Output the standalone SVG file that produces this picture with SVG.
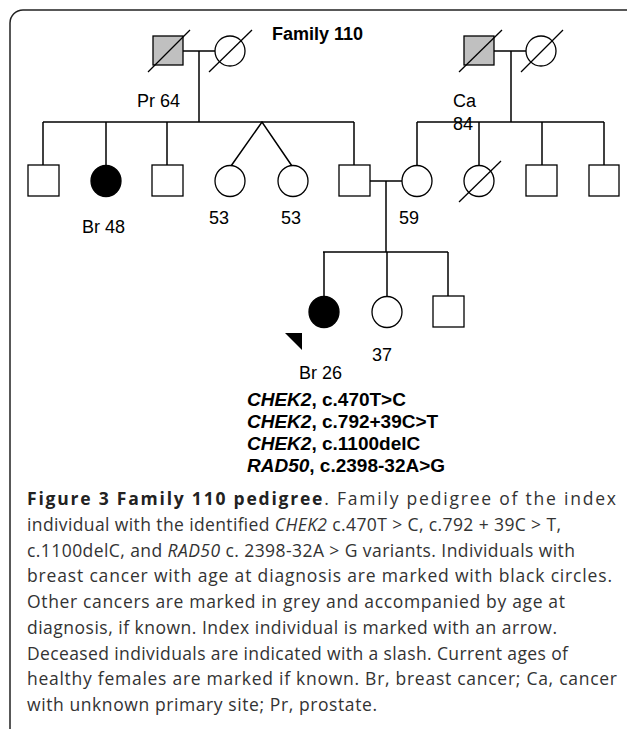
<svg xmlns="http://www.w3.org/2000/svg" width="627" height="729" viewBox="0 0 627 729">
<style>
.ln{stroke:#000;stroke-width:1.5;fill:none}
.sh{stroke:#000;stroke-width:1.3;fill:#fff}
.gr{fill:#c0c0c0}
.bk{fill:#000}
.sl{stroke:#000;stroke-width:1.3}
.lb{font-family:"Liberation Sans",Arial,sans-serif;font-size:18px;fill:#000}
.vb{font-family:"Liberation Sans",Arial,sans-serif;font-size:19px;font-weight:bold;fill:#000}
.cap{font-family:"Open Sans","Noto Sans",sans-serif;font-size:17.5px;fill:#333}
.b{font-weight:bold;fill:#222}
.i{font-style:italic}
</style>
<rect x="10" y="10" width="640" height="760" rx="13" fill="#fff" stroke="#222" stroke-width="1.5"/>
<text class="lb" x="272" y="40" font-weight="bold" font-size="18">Family 110</text>
<g id="connectors">
<line class="ln" x1="183" y1="51" x2="215" y2="51"/>
<line class="ln" x1="199" y1="51" x2="199" y2="122"/>
<line class="ln" x1="43" y1="122" x2="354" y2="122"/>
<line class="ln" x1="43" y1="122" x2="43" y2="165"/>
<line class="ln" x1="106" y1="122" x2="106" y2="166"/>
<line class="ln" x1="167" y1="122" x2="167" y2="165"/>
<polyline class="ln" points="231,166 262,122 292,166"/>
<line class="ln" x1="354" y1="122" x2="354" y2="165"/>
<line class="ln" x1="494" y1="51" x2="526" y2="51"/>
<line class="ln" x1="511" y1="51" x2="511" y2="122"/>
<line class="ln" x1="417" y1="122" x2="604" y2="122"/>
<line class="ln" x1="417" y1="122" x2="417" y2="166"/>
<line class="ln" x1="479" y1="122" x2="479" y2="166"/>
<line class="ln" x1="542" y1="122" x2="542" y2="166"/>
<line class="ln" x1="604" y1="122" x2="604" y2="166"/>
<line class="ln" x1="370" y1="181" x2="402" y2="181"/>
<line class="ln" x1="386" y1="181" x2="386" y2="252"/>
<line class="ln" x1="323" y1="252" x2="448" y2="252"/>
<line class="ln" x1="324" y1="252" x2="324" y2="297"/>
<line class="ln" x1="387" y1="252" x2="387" y2="297"/>
<line class="ln" x1="448" y1="252" x2="448" y2="296"/>
</g>
<g id="gp1"><rect class="sh gr" x="153" y="36" width="30" height="29"/><line class="sl" x1="148" y1="72" x2="190" y2="30"/><text class="lb" x="137" y="107">Pr 64</text></g>
<g id="gm1"><ellipse class="sh" cx="230" cy="51" rx="15" ry="15"/><line class="sl" x1="209" y1="72" x2="252" y2="30"/></g>
<g id="gp2"><rect class="sh gr" x="464" y="36" width="30" height="29"/><line class="sl" x1="459" y1="72" x2="502" y2="30"/><text class="lb" x="453" y="107">Ca</text><text class="lb" x="453" y="130">84</text></g>
<g id="gm2"><ellipse class="sh" cx="541" cy="51" rx="15" ry="15"/><line class="sl" x1="521" y1="72" x2="563" y2="30"/></g>
<g id="c1"><rect class="sh" x="28" y="165" width="31" height="31"/></g>
<g id="c2"><ellipse class="bk" stroke="#000" stroke-width="1.3" cx="106" cy="181" rx="15" ry="15.5"/><text class="lb" x="82" y="233">Br 48</text></g>
<g id="c3"><rect class="sh" x="152" y="165" width="31" height="31"/></g>
<g id="c4"><ellipse class="sh" cx="230" cy="181" rx="15" ry="15.5"/><text class="lb" x="209" y="224">53</text></g>
<g id="c5"><ellipse class="sh" cx="293" cy="181" rx="15" ry="15.5"/><text class="lb" x="281" y="224">53</text></g>
<g id="c6"><rect class="sh" x="339" y="165" width="31" height="31"/></g>
<g id="c7"><ellipse class="sh" cx="417" cy="181" rx="15" ry="15.5"/><text class="lb" x="399" y="224">59</text></g>
<g id="c8"><ellipse class="sh" cx="479" cy="181" rx="15" ry="15.5"/><line class="sl" x1="459" y1="202" x2="501" y2="161"/></g>
<g id="c9"><rect class="sh" x="526" y="165" width="31" height="31"/></g>
<g id="c10"><rect class="sh" x="589" y="165" width="30" height="31"/></g>
<g id="g1"><ellipse class="bk" stroke="#000" stroke-width="1.3" cx="324" cy="312" rx="15" ry="15.5"/><polygon class="bk" points="285,333 302,333 302,350"/><text class="lb" x="299" y="379">Br 26</text>
<text class="vb" x="247" y="406"><tspan class="i">CHEK2</tspan>, c.470T&gt;C</text>
<text class="vb" x="247" y="428"><tspan class="i">CHEK2</tspan>, c.792+39C&gt;T</text>
<text class="vb" x="247" y="450"><tspan class="i">CHEK2</tspan>, c.1100delC</text>
<text class="vb" x="247" y="472"><tspan class="i">RAD50</tspan>, c.2398-32A&gt;G</text></g>
<g id="g2"><ellipse class="sh" cx="387" cy="312" rx="15" ry="15.5"/><text class="lb" x="372" y="361">37</text></g>
<g id="g3"><rect class="sh" x="433" y="296" width="31" height="31"/></g>
<g id="caption">
<text class="cap" x="27" y="505" textLength="589" lengthAdjust="spacing"><tspan class="b">Figure 3 Family 110 pedigree</tspan>. Family pedigree of the index</text>
<text class="cap" x="27" y="531" textLength="534" lengthAdjust="spacing">individual with the identified <tspan class="i">CHEK2</tspan> c.470T &gt; C, c.792 + 39C &gt; T,</text>
<text class="cap" x="27" y="556.5" textLength="548" lengthAdjust="spacing">c.1100delC, and <tspan class="i">RAD50</tspan> c. 2398-32A &gt; G variants. Individuals with</text>
<text class="cap" x="27" y="582" textLength="585" lengthAdjust="spacing">breast cancer with age at diagnosis are marked with black circles.</text>
<text class="cap" x="27" y="608" textLength="538" lengthAdjust="spacing">Other cancers are marked in grey and accompanied by age at</text>
<text class="cap" x="27" y="634" textLength="530" lengthAdjust="spacing">diagnosis, if known. Index individual is marked with an arrow.</text>
<text class="cap" x="27" y="660" textLength="541" lengthAdjust="spacing">Deceased individuals are indicated with a slash. Current ages of</text>
<text class="cap" x="27" y="685" textLength="590" lengthAdjust="spacing">healthy females are marked if known. Br, breast cancer; Ca, cancer</text>
<text class="cap" x="27" y="711" textLength="350" lengthAdjust="spacing">with unknown primary site; Pr, prostate.</text>
</g>
</svg>
